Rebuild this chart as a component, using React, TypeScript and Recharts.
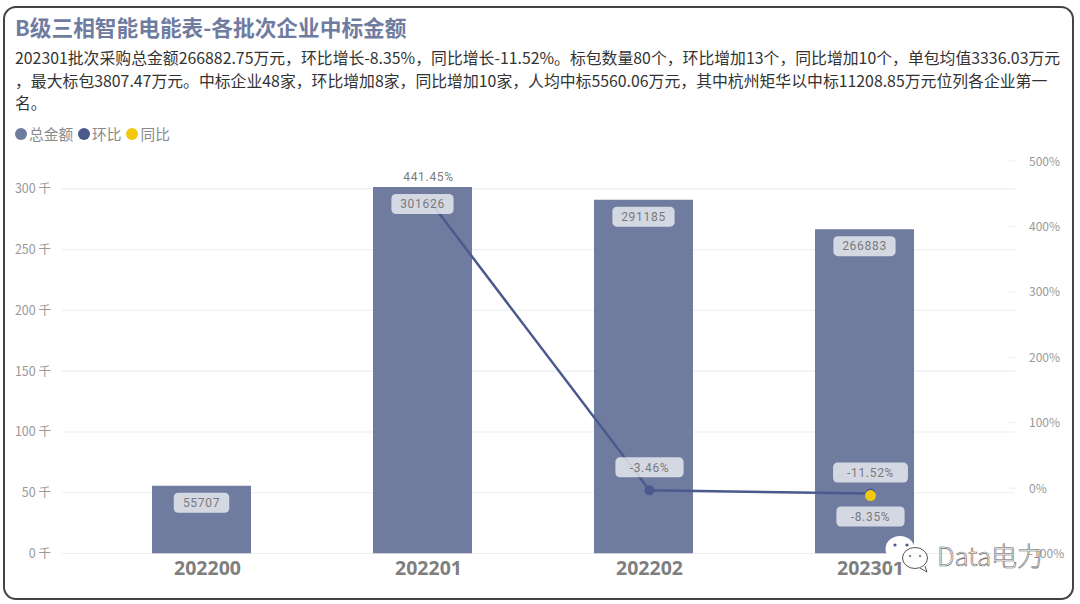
import {
  Bar,
  CartesianGrid,
  ComposedChart,
  LabelList,
  Legend,
  Line,
  XAxis,
  YAxis,
} from "recharts";

const batches = ["202200", "202201", "202202", "202301"];
const totals = [55707, 301626, 291185, 266883];
const momPct = [null, 441.45, -3.46, -8.35];
const yoyPct = [null, null, null, -11.52];
const leftTicks = [0, 50000, 100000, 150000, 200000, 250000, 300000];
const rightTicks = [-100, 0, 100, 200, 300, 400, 500];
const summaryLines = [
  "202301批次采购总金额266882.75万元，环比增长-8.35%，同比增长-11.52%。标包数量80个，环比增加13个，同比增加10个，单包均值3336.03万元",
  "，最大标包3807.47万元。中标企业48家，环比增加8家，同比增加10家，人均中标5560.06万元，其中杭州矩华以中标11208.85万元位列各企业第一",
  "名。",
];

const chartData = batches.map((batch, i) => ({
  batch,
  total: totals[i],
  mom: momPct[i],
  yoy: yoyPct[i],
}));

const BAR_COLOR = "#707c9f";
const LINE_COLOR = "#4a5a8c";
const YOY_COLOR = "#f2c811";
const CJK = '"Noto Sans CJK SC", "Noto Sans", sans-serif';

function pill(x: number, y: number, text: string, padding: number) {
  const width = text.length * 6.7 + padding * 2;
  return (
    <g>
      <rect x={x - width / 2} y={y - 10} width={width} height={20} rx={4.5} fill="rgba(255,255,255,0.7)" />
      <text x={x} y={y + 4.2} textAnchor="middle" fontFamily="Roboto" fontSize={12} letterSpacing={0.7} fill="#7a7a7a">
        {text}
      </text>
    </g>
  );
}

function TotalLabel(props: any) {
  if (props.value == null) return null;
  return pill(props.x, props.y + 17, String(props.value), 11);
}

function PctLabel(dy: (i: number) => number) {
  return (props: any) => {
    if (props.value == null) return null;
    return pill(props.x, props.y + dy(props.index), `${props.value}%`, 14);
  };
}

function MomDot(props: any) {
  if (props.index < 2 || props.value == null) return <g key={props.index} />;
  return <circle key={props.index} cx={props.cx} cy={props.cy} r={5} fill={LINE_COLOR} />;
}

function RightTick(props: any) {
  const { x, y, payload } = props;
  return (
    <g>
      <line x1={x - 8} x2={x} y1={y} y2={y} stroke="#eeeeee" />
      <text x={x + 12} y={y + 4.5} fontFamily={CJK} fontSize={12} fill="#999999">
        {payload.value}%
      </text>
    </g>
  );
}

function LegendRow(props: any) {
  const items = (props.payload || []).filter((item: any) => item.type !== "none");
  return (
    <div style={{ display: "flex", fontFamily: CJK, fontSize: 14.7, lineHeight: "22px", color: "#8a8a8a", whiteSpace: "nowrap" }}>
      {items.map((item: any) => (
        <div key={item.value} style={{ display: "flex", alignItems: "center", marginRight: 5 }}>
          <span
            style={{
              width: 12,
              height: 12,
              flexShrink: 0,
              borderRadius: 6,
              background: item.color,
              marginRight: 2,
            }}
          />
          {item.value}
        </div>
      ))}
    </div>
  );
}

function Watermark() {
  return (
    <svg width={1080} height={604} style={{ position: "absolute", left: 0, top: 0, pointerEvents: "none" }}>
      <ellipse cx={900} cy={549} rx={14.5} ry={13} fill="#ffffff" />
      <path d="M892 559 L890 566 L899 561 Z" fill="#ffffff" />
      <circle cx={895} cy={545} r={1.6} fill="#4a5a8c" />
      <circle cx={907} cy={545} r={1.6} fill="#4a5a8c" />
      <ellipse cx={915} cy={558} rx={12.5} ry={10.5} fill="#ffffff" fillOpacity={0.5} stroke="#555555" strokeWidth={1} />
      <path d="M920 568 L927 572 L925 566" fill="#ffffff" stroke="#555555" strokeWidth={1} />
      <circle cx={910} cy={556} r={1.2} fill="#888888" />
      <circle cx={920} cy={556} r={1.2} fill="#888888" />
      <text x={937} y={566} fontFamily={CJK} fontSize={26} fontWeight={300} fill="#ffffff" stroke="#666666" strokeWidth={0.6}>
        Data电力
      </text>
    </svg>
  );
}

export default function App() {
  return (
    <div style={{ position: "absolute", left: 0, top: 0, width: 1080, height: 604, background: "#ffffff", overflow: "hidden" }}>
      <div
        style={{
          position: "absolute",
          left: 3,
          top: 6,
          width: 1067,
          height: 590,
          border: "2px solid #444444",
          borderRadius: 13,
        }}
      />
      <div
        style={{
          position: "absolute",
          left: 15,
          top: 12,
          fontFamily: CJK,
          fontWeight: 700,
          fontSize: 21.7,
          lineHeight: "30px",
          color: BAR_COLOR,
          whiteSpace: "nowrap",
        }}
      >
        B级三相智能电能表-各批次企业中标金额
      </div>
      {summaryLines.map((line, i) => (
        <div
          key={i}
          style={{
            position: "absolute",
            left: 15,
            top: 47 + i * 22.5,
            fontFamily: CJK,
            fontSize: 15.85,
            lineHeight: "22px",
            color: "#333333",
            whiteSpace: "nowrap",
          }}
        >
          {line}
        </div>
      ))}
      <div style={{ position: "absolute", left: 0, top: 0 }}>
        <ComposedChart
          width={1080}
          height={604}
          data={chartData}
          margin={{ top: 139, right: 0, bottom: 0, left: 0 }}
          style={{ fontFamily: CJK }}
        >
          <Legend
            verticalAlign="top"
            align="left"
            height={22}
            itemSorter={null}
            content={LegendRow}
            wrapperStyle={{ position: "absolute", left: 15, top: 123, width: 300 }}
          />
          <CartesianGrid yAxisId="left" horizontal vertical={false} syncWithTicks stroke="#eeeef1" strokeWidth={1.2} />
          <XAxis xAxisId="main" dataKey="batch" hide orientation="top" padding={{ left: 29, right: 40 }} />
          <XAxis
            xAxisId="shift"
            dataKey="batch"
            height={50.5}
            padding={{ left: 35, right: 34 }}
            axisLine={false}
            tickLine={false}
            tickSize={0}
            tickMargin={8}
            tick={{ fontFamily: "Open Sans", fontSize: 19.5, fontWeight: 700, fill: "#7f7f7f" }}
          />
          <YAxis
            yAxisId="left"
            width={62}
            domain={[0, 323000]}
            ticks={leftTicks}
            allowDataOverflow
            axisLine={false}
            tickLine={false}
            tickSize={0}
            tickMargin={11}
            tickFormatter={(v: number) => `${v / 1000} 千`}
            tick={{ fontFamily: CJK, fontSize: 12.5, fill: "#999999" }}
          />
          <YAxis
            yAxisId="right"
            orientation="right"
            width={65}
            domain={[-100, 500]}
            ticks={rightTicks}
            allowDataOverflow
            axisLine={false}
            tickLine={false}
            tickSize={0}
            tick={RightTick}
          />
          <Bar
            xAxisId="main"
            yAxisId="left"
            dataKey="total"
            name="总金额"
            fill={BAR_COLOR}
            barSize={99}
            isAnimationActive={false}
          />
          <Line
            xAxisId="shift"
            yAxisId="right"
            dataKey="mom"
            name="环比"
            stroke={LINE_COLOR}
            strokeWidth={2.5}
            dot={MomDot}
            activeDot={false}
            connectNulls={false}
            isAnimationActive={false}
          />
          <Line
            xAxisId="shift"
            yAxisId="right"
            dataKey="yoy"
            name="同比"
            stroke={YOY_COLOR}
            strokeWidth={2.5}
            dot={{ r: 5.5, fill: YOY_COLOR, stroke: YOY_COLOR, strokeWidth: 0 }}
            activeDot={false}
            isAnimationActive={false}
          />
          {/* invisible carriers so the pills sit above the line */}
          <Line
            xAxisId="main"
            yAxisId="left"
            dataKey="total"
            stroke="none"
            dot={false}
            activeDot={false}
            legendType="none"
            isAnimationActive={false}
          >
            <LabelList dataKey="total" content={TotalLabel} />
          </Line>
          <Line
            xAxisId="shift"
            yAxisId="right"
            dataKey="mom"
            stroke="none"
            dot={false}
            activeDot={false}
            legendType="none"
            isAnimationActive={false}
          >
            <LabelList dataKey="mom" content={PctLabel((i) => (i === 3 ? 23 : -23))} />
          </Line>
          <Line
            xAxisId="shift"
            yAxisId="right"
            dataKey="yoy"
            stroke="none"
            dot={false}
            activeDot={false}
            legendType="none"
            isAnimationActive={false}
          >
            <LabelList dataKey="yoy" content={PctLabel(() => -23)} />
          </Line>
        </ComposedChart>
      </div>
      <Watermark />
    </div>
  );
}
